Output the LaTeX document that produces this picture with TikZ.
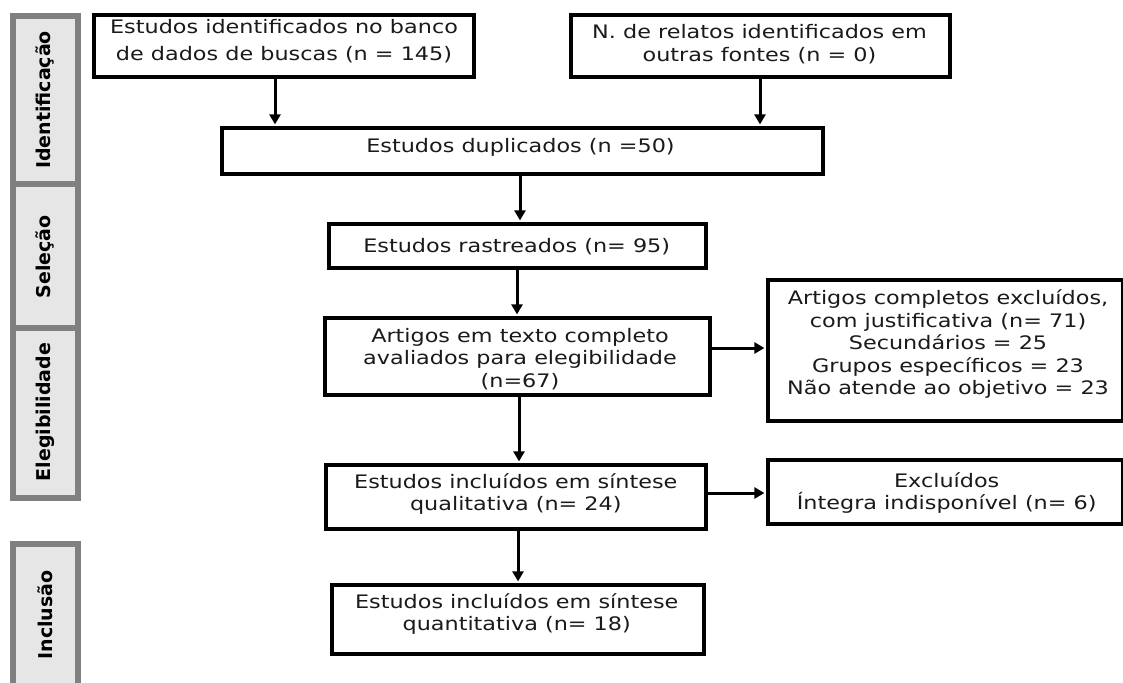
\documentclass[tikz,border=0pt]{standalone}
\usepackage{fontspec}
\setmainfont{DejaVu Sans}[FakeStretch=1.2]
\newfontfamily\barfont{DejaVu Sans}
\usetikzlibrary{arrows.meta}
\definecolor{bargray}{HTML}{808080}
\definecolor{barfill}{HTML}{E6E6E6}
\definecolor{txt}{HTML}{1A1A1A}
\begin{document}
\begin{tikzpicture}[x=1pt,y=-1pt,
  box/.style={draw=black, line width=3.7pt, fill=white, rectangle, inner sep=0pt},
  lbl/.style={align=center, font=\fontsize{18.6}{22.5}\selectfont, text=txt, inner sep=0pt},
  bar/.style={draw=bargray, fill=barfill, line width=6pt, rectangle, inner sep=0pt},
  bartxt/.style={rotate=90, font=\barfont\bfseries\fontsize{19}{22}\selectfont, inner sep=0pt},
  arr/.style={line width=3pt, shorten >=1.5pt, -{Triangle[length=10pt,width=11pt]}}]
\useasboundingbox (0,0) rectangle (1123,682);
\fill[white] (0,0) rectangle (1123,682);
\clip (0,0) rectangle (1123,682);

% side bars
\node[bar, minimum width=65pt, minimum height=168pt] (s1) at (45,100) {};
\node[bar, minimum width=65pt, minimum height=143.5pt] (s2) at (45,255.75) {};
\node[bar, minimum width=65pt, minimum height=170pt] (s3) at (45,412.5) {};
\node[bar, minimum width=65pt, minimum height=156pt] (s4) at (45,622) {};
\node[bartxt] (s1t) at (45,100) {Identificação};
\node[bartxt] (s2t) at (45,257) {Seleção};
\node[bartxt] (s3t) at (45,412) {Elegibilidade};
\node[bartxt] (s4t) at (45,615) {Inclusão};

% boxes
\node[box, minimum width=380.5pt, minimum height=62.5pt] (b1) at (284,46) {};
\node[box, minimum width=379.5pt, minimum height=62.5pt] (b2) at (760.5,46) {};
\node[box, minimum width=601.5pt, minimum height=46.5pt] (b3) at (522.5,151) {};
\node[box, minimum width=377.5pt, minimum height=44.5pt] (b4) at (517.5,246) {};
\node[box, minimum width=385.5pt, minimum height=77.5pt] (b5) at (517.5,356.5) {};
\node[box, minimum width=355.5pt, minimum height=141.5pt] (b6) at (945.5,350.5) {};
\node[box, minimum width=380.5pt, minimum height=64.5pt] (b7) at (516,497) {};
\node[box, minimum width=355.5pt, minimum height=64.5pt] (b8) at (945.5,492) {};
\node[box, minimum width=372.5pt, minimum height=69.5pt] (b9) at (518,619.5) {};

% texts
\node[lbl, font=\fontsize{18.6}{27}\selectfont] (t1) at (284,41) {Estudos identificados no banco\\de dados de buscas (n = 145)};
\node[lbl] (t2) at (759.5,44) {N. de relatos identificados em\\outras fontes (n = 0)};
\node[lbl] (t3) at (520.5,147) {Estudos duplicados (n =50)};
\node[lbl] (t4) at (516.7,246.5) {Estudos rastreados (n= 95)};
\node[lbl] (t5) at (520,359) {Artigos em texto completo\\avaliados para elegibilidade\\(n=67)};
\node[lbl] (t6) at (948,344) {Artigos completos excluídos,\\com justificativa (n= 71)\\Secundários = 25\\Grupos específicos = 23\\Não atende ao objetivo = 23};
\node[lbl] (t7) at (515.8,494) {Estudos incluídos em síntese\\qualitativa (n= 24)};
\node[lbl] (t8) at (946.7,493) {Excluídos\\Íntegra indisponível (n= 6)};
\node[lbl] (t9) at (516.7,614) {Estudos incluídos em síntese\\quantitativa (n= 18)};

% arrow x positions
\coordinate (x1) at (275,0);
\coordinate (x2) at (760,0);
\coordinate (x3) at (520,0);
\coordinate (x4) at (517,0);
\coordinate (x5) at (519,0);
\coordinate (x7) at (518,0);
\coordinate (y6) at (0,348);
\coordinate (y8) at (0,493);

\draw[arr] (b1.south -| x1) -- (b3.north -| x1);
\draw[arr] (b2.south -| x2) -- (b3.north -| x2);
\draw[arr] (b3.south -| x3) -- (b4.north -| x3);
\draw[arr] (b4.south -| x4) -- (b5.north -| x4);
\draw[arr] (b5.south -| x5) -- (b7.north -| x5);
\draw[arr] (b7.south -| x7) -- (b9.north -| x7);
\draw[arr] (b5.east |- y6) -- (b6.west |- y6);
\draw[arr] (b7.east |- y8) -- (b8.west |- y8);
\end{tikzpicture}
\end{document}
